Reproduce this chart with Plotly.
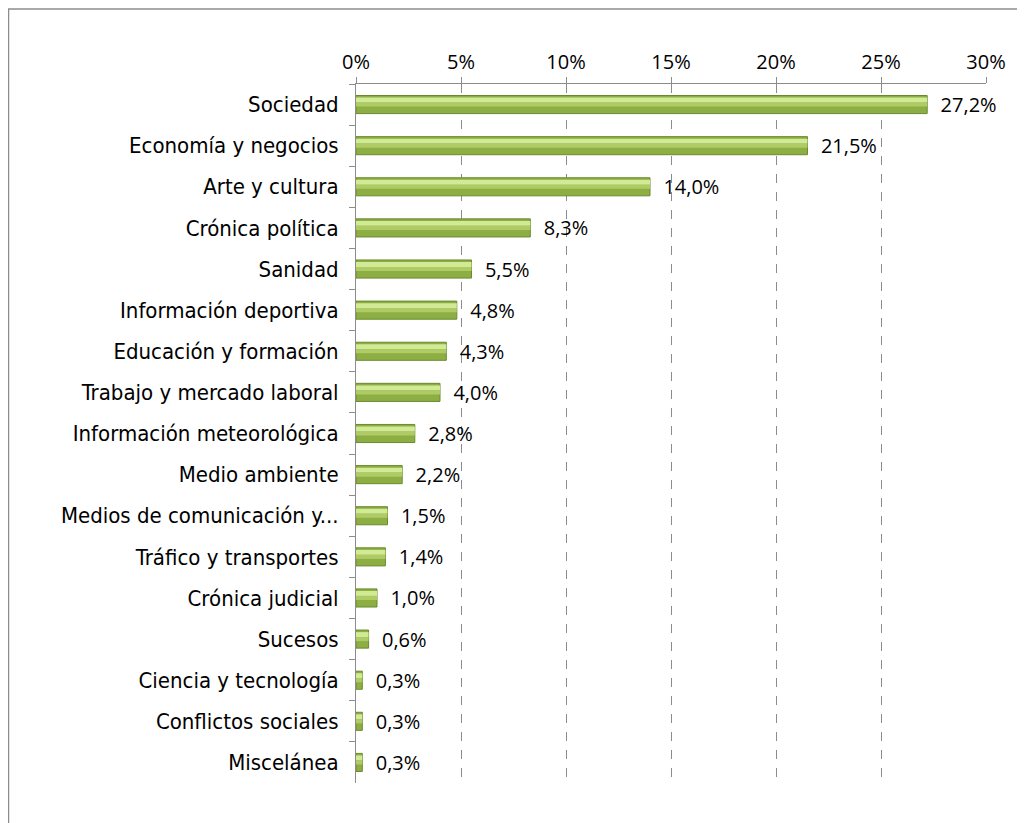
import plotly.graph_objects as go

categories = ["Sociedad", "Economía y negocios", "Arte y cultura", "Crónica política",
              "Sanidad", "Información deportiva", "Educación y formación",
              "Trabajo y mercado laboral", "Información meteorológica", "Medio ambiente",
              "Medios de comunicación y...", "Tráfico y transportes", "Crónica judicial",
              "Sucesos", "Ciencia y tecnología", "Conflictos sociales", "Miscelánea"]
values = [27.2, 21.5, 14.0, 8.3, 5.5, 4.8, 4.3, 4.0, 2.8, 2.2, 1.5, 1.4, 1.0, 0.6, 0.3, 0.3, 0.3]
tick_vals = [0, 5, 10, 15, 20, 25, 30]
tick_text = ["0%", "5%", "10%", "15%", "20%", "25%", "30%"]

labels = ["\u00a0\u00a0" + f"{v:.1f}".replace(".", ",") + "%" for v in values]

W, H = 1025, 823
# page has an 8px body margin; compensate
L, R, T, B = 348, 47, 76, 48
PW, PH = W - L - R, H - T - B

fig = go.Figure()
fig.add_trace(go.Bar(
    y=categories, x=values, orientation="h",
    width=0.44,
    marker=dict(color="#8cae42", line=dict(color="#6b8a2e", width=1)),
    text=labels, textposition="outside", constraintext="none",
    textfont=dict(family="Open Sans, Noto Sans, sans-serif", size=20, color="#000000"),
    cliponaxis=False, hoverinfo="skip", showlegend=False,
))
fig.add_trace(go.Bar(
    y=categories, x=values, orientation="h",
    width=0.12, offset=-0.17,
    marker=dict(color="#d2e996", line=dict(width=0)),
    hoverinfo="skip", showlegend=False,
))
fig.add_trace(go.Bar(
    y=categories, x=values, orientation="h",
    width=0.1, offset=-0.05,
    marker=dict(color="#aecb66", line=dict(width=0)),
    hoverinfo="skip", showlegend=False,
))

fig.update_layout(
    width=W, height=H,
    margin=dict(l=L, r=R, t=T, b=B),
    barmode="overlay",
    plot_bgcolor="white", paper_bgcolor="white",
    xaxis=dict(
        side="top", range=[0, 30], tickvals=tick_vals, ticktext=tick_text,
        showgrid=True, gridcolor="#8c8c8c", griddash="dash", gridwidth=1,
        showline=True, linecolor="#8c8c8c", linewidth=1,
        ticks="outside", ticklen=6, tickcolor="#8c8c8c",
        tickfont=dict(family="Open Sans, Noto Sans, sans-serif", size=20, color="#000000"),
        zeroline=False, fixedrange=True,
    ),
    yaxis=dict(
        autorange="reversed", showline=True, linecolor="#8c8c8c", linewidth=1,
        ticks="outside", tickson="boundaries", ticklen=6, tickcolor="#8c8c8c",
        ticklabelstandoff=12,
        tickfont=dict(family="DejaVu Sans Condensed, Liberation Sans, sans-serif", size=22, color="#000000"),
        showgrid=False, fixedrange=True,
    ),
    shapes=[
        dict(type="line", xref="paper", yref="paper",
             x0=(0 - L) / PW, x1=(W - L) / PW,
             y0=(H - B - 1) / PH, y1=(H - B - 1) / PH,
             line=dict(color="#8c8c8c", width=1.5)),
        dict(type="line", xref="paper", yref="paper",
             x0=(0.5 - L) / PW, x1=(0.5 - L) / PW,
             y0=(H - B - 1) / PH, y1=(H - B - H - 5) / PH,
             line=dict(color="#8c8c8c", width=1.5)),
    ],
)

fig.write_html("out.html")
